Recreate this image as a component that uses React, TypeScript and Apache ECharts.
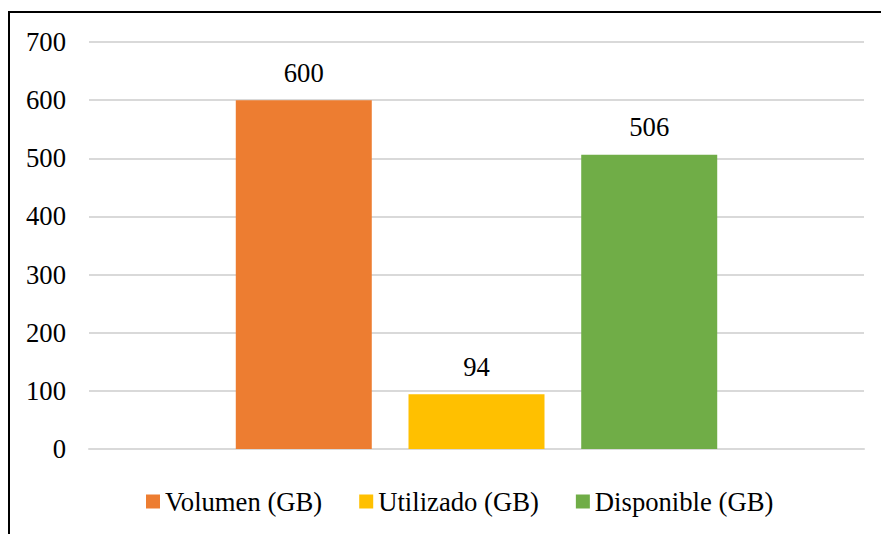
import React, { useEffect, useRef } from "react";
import * as echarts from "echarts";

const categories = [""];
const seriesNames = ["Volumen (GB)", "Utilizado (GB)", "Disponible (GB)"];
const seriesValues = [600, 94, 506];
const seriesColors = ["#ED7D31", "#FFC000", "#70AD47"];
const yTicks = { min: 0, max: 700, interval: 100 };

const FONT = "Times New Roman, Liberation Serif, serif";
const FS = 26.67;

export default function App() {
  const ref = useRef<HTMLDivElement>(null);
  useEffect(() => {
    if (!ref.current) return;
    const chart = echarts.init(ref.current, undefined, { renderer: "svg" });
    chart.setOption({
      animation: false,
      backgroundColor: "#ffffff",
      textStyle: { fontFamily: FONT, fontSize: FS },
      graphic: [
        {
          type: "rect",
          shape: { x: 9, y: 12, width: 1000, height: 700 },
          style: { fill: "none", stroke: "#000000", lineWidth: 2 },
          silent: true,
        },
      ],
      grid: { left: 89, right: 17, top: 42, bottom: 85 },
      legend: {
        data: seriesNames,
        top: 483,
        left: 141,
        itemWidth: 14,
        itemHeight: 14,
        itemGap: 37,
        icon: "rect",
        textStyle: { fontFamily: FONT, fontSize: FS, color: "#000" },
      },
      xAxis: {
        type: "category",
        data: categories,
        axisLine: { show: true, lineStyle: { color: "#d9d9d9", width: 2 } },
        axisTick: { show: false },
        axisLabel: { show: false },
      },
      yAxis: {
        type: "value",
        min: yTicks.min,
        max: yTicks.max,
        interval: yTicks.interval,
        axisLine: { show: false },
        axisTick: { show: false },
        axisLabel: { fontFamily: FONT, fontSize: FS, color: "#000", margin: 23 },
        splitLine: { lineStyle: { color: "#d9d9d9", width: 2 } },
      },
      series: seriesNames.map((name, i) => ({
        name,
        type: "bar",
        data: [seriesValues[i]],
        barWidth: 136,
        barGap: "27%",
        itemStyle: { color: seriesColors[i] },
        label: {
          show: true,
          position: "top",
          distance: 14,
          fontFamily: FONT,
          fontSize: FS,
          color: "#000",
        },
      })),
    });
    return () => chart.dispose();
  }, []);
  return (
    <div
      ref={ref}
      style={{ position: "fixed", left: 0, top: 0, width: 881, height: 534 }}
    />
  );
}
